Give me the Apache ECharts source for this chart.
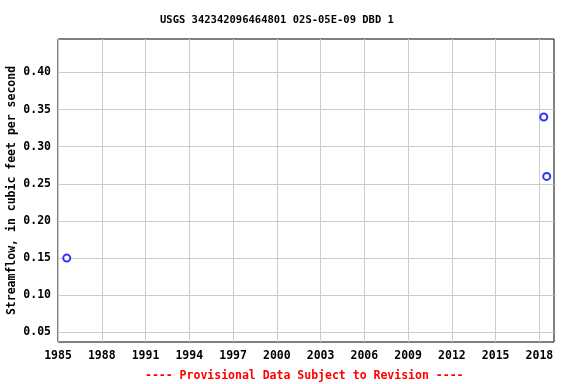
<!DOCTYPE html>
<html><head><meta charset="utf-8">
<script src="https://cdn.jsdelivr.net/npm/echarts@6/dist/echarts.min.js"></script>
<style>html,body{margin:0;padding:0;background:#fff}#c{width:576px;height:384px}</style>
</head><body><div id="c"></div>
<script>
var years = [1985.6, 2018.3, 2018.5];
var flows = [0.15, 0.34, 0.26];
var xTicks = [1985, 1988, 1991, 1994, 1997, 2000, 2003, 2006, 2009, 2012, 2015, 2018];
var yTicks = [0.05, 0.10, 0.15, 0.20, 0.25, 0.30, 0.35, 0.40];
var title = 'USGS 342342096464801 02S-05E-09 DBD 1';
var yName = 'Streamflow, in cubic feet per second';
var footer = '---- Provisional Data Subject to Revision ----';
var font = '"DejaVu Sans Mono", monospace';

var chart = echarts.init(document.getElementById('c'), null, {renderer: 'canvas'});
var pts = years.map(function (y, i) { return [y, flows[i]]; });
chart.setOption({
  animation: false,
  backgroundColor: '#fff',
  title: [{
    text: title, left: 160, top: 15, padding: 0,
    textStyle: {fontFamily: font, fontWeight: 'bold', fontSize: 10.5, color: '#000'}
  }, {
    text: footer, left: 145, top: 370, padding: 0,
    textStyle: {fontFamily: font, fontWeight: 'bold', fontSize: 11.5, color: '#ff0000'}
  }],
  grid: {left: 58, top: 39, right: 22, bottom: 42, outerBoundsMode: 'none', containLabel: false,
         show: true, borderColor: '#000', borderWidth: 1, backgroundColor: 'transparent'},
  xAxis: {
    type: 'value', min: 1985, max: 2019,
    axisLine: {show: false},
    axisTick: {show: false, customValues: xTicks},
    splitLine: {show: true, lineStyle: {color: '#cccccc', width: 1}},
    axisLabel: {
      customValues: xTicks, margin: 8,
      fontFamily: font, fontWeight: 'bold', fontSize: 11.5, color: '#000',
      formatter: function (v) { return String(v); }
    }
  },
  yAxis: {
    type: 'value', min: 0.037, max: 0.445,
    name: yName, nameLocation: 'middle', nameGap: 40, nameRotate: 90, nameMoveOverlap: false,
    nameTextStyle: {fontFamily: font, fontWeight: 'bold', fontSize: 11.5, color: '#000'},
    axisLine: {show: false},
    axisTick: {show: false, customValues: yTicks},
    splitLine: {show: true, lineStyle: {color: '#cccccc', width: 1}},
    axisLabel: {
      customValues: yTicks, margin: 7,
      fontFamily: font, fontWeight: 'bold', fontSize: 11.5, color: '#000',
      formatter: function (v) { return v.toFixed(2); }
    }
  },
  series: [{
    type: 'scatter', data: pts, symbol: 'emptyCircle', symbolSize: 7,
    itemStyle: {color: '#0000ff', borderColor: '#0000ff', borderWidth: 1.5}
  }]
});
</script></body></html>
